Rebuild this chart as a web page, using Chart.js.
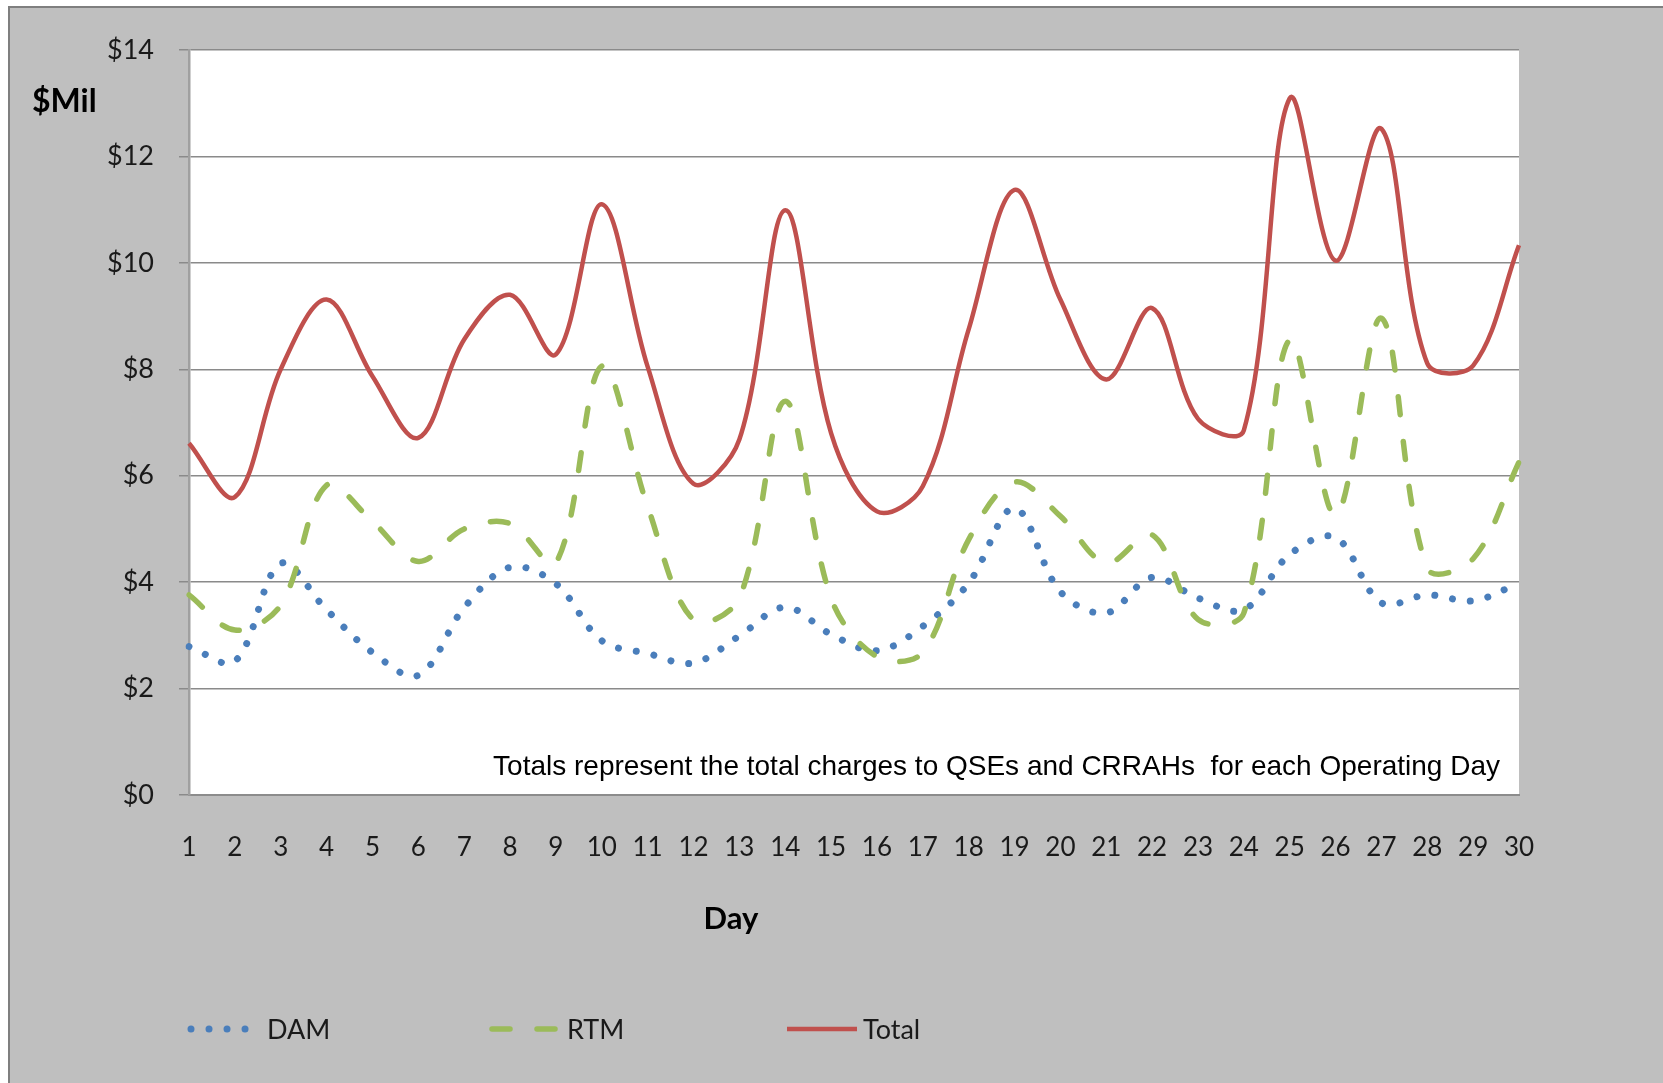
<!DOCTYPE html>
<html>
<head>
<meta charset="utf-8">
<script src="https://cdn.jsdelivr.net/npm/chart.js@4/dist/chart.umd.min.js"></script>
<style>
  html, body { margin: 0; padding: 0; background: #ffffff; }
  canvas { display: block; }
</style>
</head>
<body>
<canvas id="graficoCargas" width="1663" height="1083"></canvas>
<script>
// dias do mes (eixo x)
let dias = ['1', '2', '3', '4', '5', '6', '7', '8', '9', '10',
            '11', '12', '13', '14', '15', '16', '17', '18', '19', '20',
            '21', '22', '23', '24', '25', '26', '27', '28', '29', '30'];

// valores em $ milhoes
let dam = [2.79, 2.51, 4.35, 3.48, 2.68, 2.25, 3.52, 4.28, 3.97, 2.90,
           2.66, 2.48, 2.99, 3.53, 3.02, 2.71, 3.17, 3.98, 5.39, 3.82,
           3.42, 4.09, 3.70, 3.48, 4.52, 4.84, 3.61, 3.76, 3.65, 3.98];
let rtm = [3.76, 3.10, 3.57, 5.82, 5.14, 4.39, 5.00, 5.10, 4.36, 8.06,
           5.42, 3.29, 3.70, 7.40, 3.70, 2.60, 2.68, 4.80, 5.88, 5.24,
           4.36, 4.89, 3.30, 3.42, 8.56, 5.25, 8.96, 4.26, 4.44, 6.26];
let total = [6.61, 5.60, 8.00, 9.31, 7.87, 6.71, 8.56, 9.40, 8.28, 11.10,
             8.05, 5.85, 6.68, 10.99, 6.80, 5.33, 5.80, 8.75, 11.37, 9.31,
             7.81, 9.15, 7.07, 6.85, 13.09, 10.04, 12.52, 8.11, 8.07, 10.33];

// eixo y
let yMin = 0;
let yMax = 14;
let yPasso = 2;

let nota = 'Totals represent the total charges to QSEs and CRRAHs  for each Operating Day';

// fundo cinza, area branca, textos e legenda
let molduraPlugin = {
    id: 'moldura',
    beforeDraw(chart) {
        let ctx = chart.ctx;
        let area = chart.chartArea;
        ctx.save();
        ctx.fillStyle = '#ffffff';
        ctx.fillRect(0, 0, chart.width, chart.height);
        ctx.fillStyle = '#bfbfbf';
        ctx.fillRect(9, 7, chart.width - 9, chart.height - 7);
        ctx.strokeStyle = '#7f7f7f';
        ctx.lineWidth = 2;
        ctx.beginPath();
        ctx.moveTo(9, chart.height);
        ctx.lineTo(9, 7);
        ctx.lineTo(chart.width, 7);
        ctx.stroke();
        ctx.fillStyle = '#ffffff';
        ctx.fillRect(area.left, area.top, area.right - area.left, area.bottom - area.top);
        ctx.restore();
    },
    afterDraw(chart) {
        let ctx = chart.ctx;
        ctx.save();
        ctx.fillStyle = '#000000';
        ctx.textBaseline = 'alphabetic';

        // $Mil
        ctx.font = 'bold 32px Lato';
        ctx.textAlign = 'left';
        ctx.fillText('$Mil', 32, 112);

        // Day
        ctx.font = 'bold 31px Lato';
        ctx.textAlign = 'center';
        ctx.fillText('Day', 731, 929);

        // nota dentro do grafico
        ctx.font = '28px "Liberation Sans", Arial, sans-serif';
        ctx.textAlign = 'right';
        ctx.fillText(nota, 1500, 775);

        // legenda
        let itens = [
            {ds: 0, x0: 191, x1: 248, tx: 267},
            {ds: 1, x0: 492, x1: 557, tx: 567},
            {ds: 2, x0: 787, x1: 857, tx: 863}
        ];
        let yLeg = 1029;
        itens.forEach(function (it) {
            let d = chart.data.datasets[it.ds];
            ctx.save();
            ctx.strokeStyle = d.borderColor;
            ctx.lineWidth = d.borderWidth;
            ctx.lineCap = d.borderCapStyle || 'butt';
            ctx.setLineDash(d.borderDash || []);
            ctx.beginPath();
            ctx.moveTo(it.x0, yLeg);
            ctx.lineTo(it.x1, yLeg);
            ctx.stroke();
            ctx.restore();
            ctx.font = '27px Lato';
            ctx.fillStyle = '#1a1a1a';
            ctx.textAlign = 'left';
            ctx.fillText(d.label, it.tx, yLeg + 10);
        });
        ctx.restore();
    }
};

let graficoCargas = document.getElementById('graficoCargas').getContext('2d');
let cargas = new Chart(graficoCargas, {
    type: 'line',
    data: {
        labels: dias,
        datasets: [
            {
                label: 'DAM',
                data: dam,
                borderColor: '#4a7ebb',
                backgroundColor: '#4a7ebb',
                borderWidth: 7,
                borderDash: [0.01, 18],
                borderCapStyle: 'round',
                pointRadius: 0,
                tension: 0.35,
                fill: false,
                order: 3
            },
            {
                label: 'RTM',
                data: rtm,
                borderColor: '#9bbb59',
                backgroundColor: '#9bbb59',
                borderWidth: 5.5,
                borderDash: [18, 27],
                borderCapStyle: 'round',
                pointRadius: 0,
                tension: 0.35,
                fill: false,
                order: 2
            },
            {
                label: 'Total',
                data: total,
                borderColor: '#c0504d',
                backgroundColor: '#c0504d',
                borderWidth: 4.5,
                pointRadius: 0,
                tension: 0.35,
                fill: false,
                order: 1
            }
        ]
    },
    options: {
        responsive: false,
        animation: false,
        layout: {
            padding: {left: 0, top: 50, right: 144, bottom: 0}
        },
        plugins: {
            legend: {display: false},
            tooltip: {enabled: false}
        },
        scales: {
            x: {
                offset: false,
                grid: {display: false, drawTicks: false},
                border: {display: true, color: '#8c8c8c', width: 2},
                ticks: {
                    font: {family: 'Lato', size: 26},
                    color: '#1a1a1a',
                    padding: 37,
                    autoSkip: false,
                    maxRotation: 0
                },
                afterFit(scale) { scale.height = 288; }
            },
            y: {
                min: yMin,
                max: yMax,
                grid: {color: '#8a8a8a', lineWidth: 1.5, tickLength: 10},
                border: {display: true, color: '#a0a0a0', width: 2.5},
                ticks: {
                    stepSize: yPasso,
                    font: {family: 'Lato', size: 27},
                    color: '#1a1a1a',
                    padding: 25,
                    callback: function (v) { return '$' + v; }
                },
                afterFit(scale) { scale.width = 189; }
            }
        }
    },
    plugins: [molduraPlugin]
});
</script>
</body>
</html>
